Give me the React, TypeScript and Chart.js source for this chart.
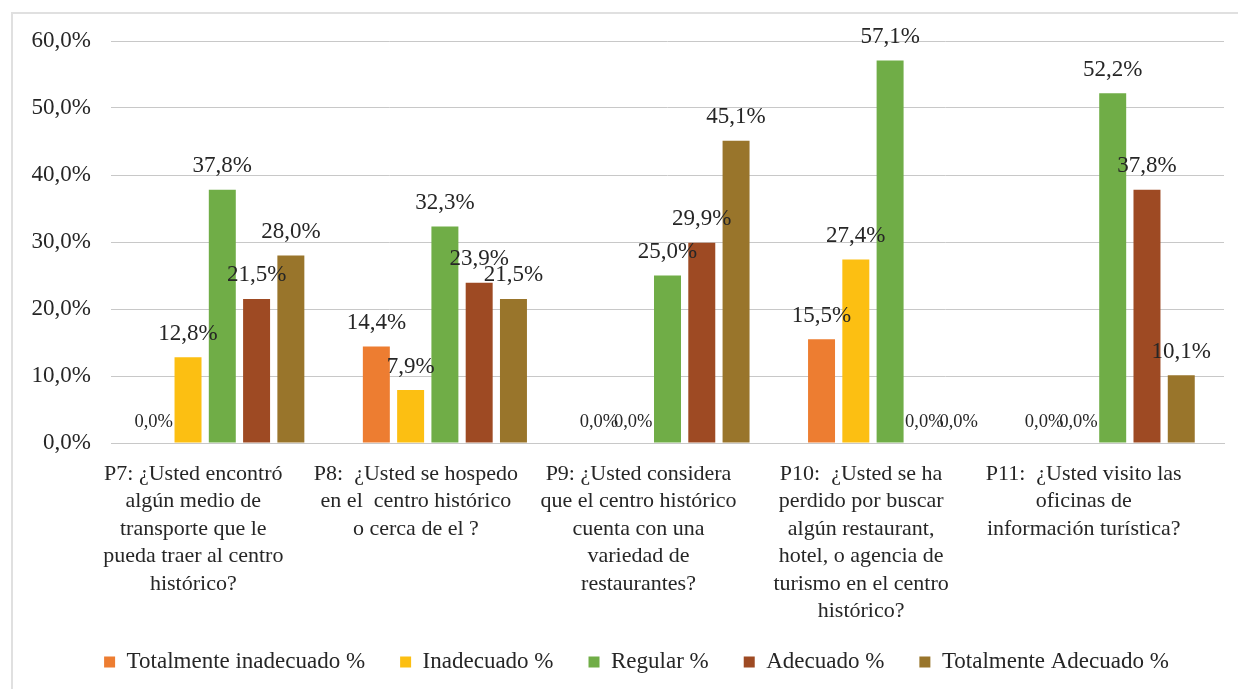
import React, { useEffect, useRef } from "react";
import { Chart, registerables } from "chart.js";

Chart.register(...registerables);

const categories: string[][] = [
  ["P7: ¿Usted encontró", "algún medio de", "transporte que le", "pueda traer al centro", "histórico?"],
  ["P8:  ¿Usted se hospedo", "en el  centro histórico", "o cerca de el ?"],
  ["P9: ¿Usted considera", "que el centro histórico", "cuenta con una", "variedad de", "restaurantes?"],
  ["P10:  ¿Usted se ha", "perdido por buscar", "algún restaurant,", "hotel, o agencia de", "turismo en el centro", "histórico?"],
  ["P11:  ¿Usted visito las", "oficinas de", "información turística?"],
];

const seriesNames = ["Totalmente inadecuado %", "Inadecuado %", "Regular %", "Adecuado %", "Totalmente Adecuado %"];
const totalmenteInadecuado = [0, 14.4, 0, 15.5, 0];
const inadecuado = [12.8, 7.9, 0, 27.4, 0];
const regular = [37.8, 32.3, 25.0, 57.1, 52.2];
const adecuado = [21.5, 23.9, 29.9, 0, 37.8];
const totalmenteAdecuado = [28.0, 21.5, 45.1, 0, 10.1];
const seriesColors = ["#ED7D31", "#FCBF12", "#70AD47", "#9E4A23", "#99752B"];

const yTicks = { min: 0, max: 60, step: 10 };

const FONT = '"Liberation Serif", "Times New Roman", serif';
const fmt = (v: number) => v.toFixed(1).replace(".", ",") + "%";

const valueLabels = {
  id: "valueLabels",
  afterDatasetsDraw(chart: any) {
    const ctx = chart.ctx;
    ctx.save();
    ctx.fillStyle = "#262626";
    ctx.textAlign = "center";
    ctx.textBaseline = "alphabetic";
    chart.data.datasets.forEach((ds: any, di: number) => {
      const meta = chart.getDatasetMeta(di);
      meta.data.forEach((el: any, i: number) => {
        const v = ds.data[i] as number;
        const zero = v === 0;
        ctx.font = `${zero ? 18.5 : 23}px ${FONT}`;
        ctx.fillText(fmt(v), el.x, el.y - (zero ? 16 : 17.5));
      });
    });
    ctx.restore();
  },
};

// shift the legend band so it is centred like the reference,
// and let the category labels run down past the axis box without clipping
const layoutTweaks = {
  id: "layoutTweaks",
  afterLayout(chart: any) {
    const lg = chart.legend;
    if (lg) {
      lg.left = 49;
      lg.right = chart.chartArea.right;
      lg.width = lg.right - lg.left;
    }
    const xs = chart.scales.x;
    if (xs) xs.bottom = chart.height;
  },
};

export default function App() {
  const ref = useRef<HTMLCanvasElement | null>(null);
  useEffect(() => {
    if (!ref.current) return;
    const data = [totalmenteInadecuado, inadecuado, regular, adecuado, totalmenteAdecuado];
    const chart = new Chart(ref.current, {
      type: "bar",
      data: {
        labels: categories,
        datasets: seriesNames.map((name, i) => ({
          label: name,
          data: data[i],
          backgroundColor: seriesColors[i],
          borderWidth: 0,
          categoryPercentage: 0.77,
          barPercentage: 0.787,
        })),
      },
      options: {
        animation: false,
        responsive: false,
        layout: { padding: { left: 0, right: 14, top: 41, bottom: 5.5 } },
        plugins: {
          tooltip: { enabled: false },
          legend: {
            position: "bottom",
            labels: {
              boxWidth: 11,
              boxHeight: 11,
              padding: 35,
              color: "#262626",
              font: { family: FONT, size: 23 },
            },
          },
        },
        scales: {
          x: {
            grid: { display: false, drawTicks: false },
            border: { display: true, color: "#c8c8c8", width: 1 },
            ticks: {
              padding: 17,
              labelOffset: -29,
              color: "#262626",
              font: { family: FONT, size: 22, lineHeight: 1.25 },
              maxRotation: 0,
              autoSkip: false,
            },
            afterFit: (s: any) => {
              s.height = 172.5;
            },
          },
          y: {
            min: yTicks.min,
            max: yTicks.max,
            grid: { color: "#c8c8c8", lineWidth: 1, drawTicks: false },
            border: { display: false },
            ticks: {
              stepSize: yTicks.step,
              padding: 20,
              color: "#262626",
              font: { family: FONT, size: 23 },
              callback: (v: any) => fmt(Number(v)),
            },
            afterFit: (s: any) => {
              s.width = 111;
            },
          },
        },
      },
      plugins: [valueLabels, layoutTweaks],
    });
    return () => chart.destroy();
  }, []);

  return (
    <div style={{ position: "fixed", left: 0, top: 0, width: 1238, height: 689, overflow: "hidden", background: "#fff" }}>
      <div
        style={{
          position: "absolute",
          left: 11,
          top: 12,
          width: 1400,
          height: 800,
          borderLeft: "2px solid #e0e0e0",
          borderTop: "2px solid #e0e0e0",
        }}
      />
      <canvas ref={ref} width={1238} height={689} style={{ position: "absolute", left: 0, top: 0 }} />
    </div>
  );
}
